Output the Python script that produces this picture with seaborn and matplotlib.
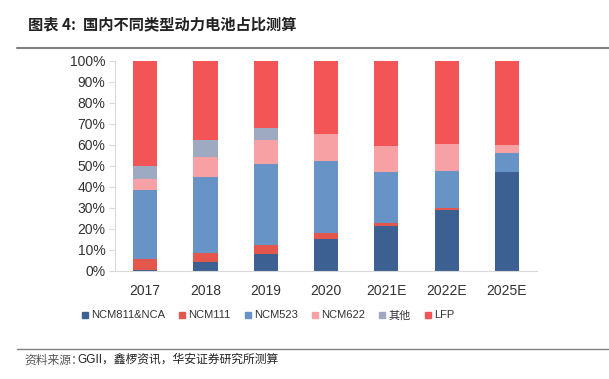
"""Stacked share chart of domestic power battery types."""
import matplotlib
matplotlib.use("Agg")
import matplotlib.pyplot as plt
from matplotlib.lines import Line2D
from matplotlib.ticker import PercentFormatter
import numpy as np
import pandas as pd
import seaborn as sns

years = ["2017", "2018", "2019", "2020", "2021E", "2022E", "2025E"]
ncm811_nca = [0.5, 4.3, 8.1, 15.1, 21.4, 28.9, 47.1]
ncm111 = [5.2, 4.3, 4.3, 2.7, 1.1, 0.9, 0.0]
ncm523 = [32.7, 35.8, 38.2, 34.4, 24.6, 17.8, 9.1]
ncm622 = [5.4, 9.7, 11.6, 12.9, 12.4, 12.7, 3.8]
others = [6.0, 8.1, 5.9, 0.0, 0.0, 0.0, 0.0]
lfp = [50.2, 37.8, 31.9, 34.9, 40.5, 39.7, 40.0]

series_names = ["NCM811&NCA", "NCM111", "NCM523", "NCM622", "其他", "LFP"]
series_values = [ncm811_nca, ncm111, ncm523, ncm622, others, lfp]
colors = ["#3B6091", "#E4574D", "#6893C6", "#F8A1A4", "#9DAAC2", "#F35557"]

sns.set_style("white")
plt.rcParams["font.family"] = ["Liberation Sans", "Noto Sans CJK SC"]

fig = plt.figure(figsize=(6.09, 3.79), dpi=100)
ax = fig.add_axes([0.189, 0.286, 0.693, 0.554])

bottom = np.zeros(len(years))
for name, vals, col in zip(series_names, series_values, colors):
    df = pd.DataFrame({"year": years, "share": vals})
    sns.barplot(data=df, x="year", y="share", color=col, bottom=bottom,
                width=0.4, ax=ax, saturation=1, linewidth=0)
    bottom += np.array(vals)

ax.set_xlim(-0.5, len(years) - 0.5)
ax.set_ylim(0, 100)
ax.set_yticks(np.arange(0, 101, 10))
ax.yaxis.set_major_formatter(PercentFormatter(decimals=0))
ax.set_xlabel("")
ax.set_ylabel("")
for s in ["top", "right"]:
    ax.spines[s].set_visible(False)
ax.spines["left"].set_color("#D9D9D9")
ax.spines["bottom"].set_color("#D9D9D9")
ax.tick_params(axis="y", left=True, length=4, color="#D9D9D9", labelsize=10,
               labelcolor="#333333", pad=3)
ax.tick_params(axis="x", bottom=False, labelsize=10, labelcolor="#333333", pad=6)

handles = [Line2D([], [], marker="s", linestyle="", markersize=4,
                  markerfacecolor=c, markeredgecolor=c) for c in colors]
fig.legend(handles, series_names, loc="center", bbox_to_anchor=(0.44, 0.168),
           ncol=6, frameon=False, fontsize=8, handlelength=0.5, handletextpad=0.3,
           columnspacing=1.3, labelcolor="#333333")

fig.text(0.046, 0.937, "图表 4:  国内不同类型动力电池占比测算", fontsize=11,
         fontweight="bold", family=["Noto Sans CJK SC"], va="center", color="#222222")
fig.add_artist(Line2D([0.028, 1.0], [0.873, 0.873], color="#808080", lw=1.5))
fig.add_artist(Line2D([0.028, 1.0], [0.08, 0.08], color="#808080", lw=1.0))
fig.text(0.04, 0.05, "资料来源：", fontsize=8.5, family=["Noto Sans CJK SC"],
         va="center", color="#555555")
fig.text(0.127, 0.05, "GGII，鑫椤资讯，华安证券研究所测算", fontsize=8.5,
         family=["Liberation Sans", "Noto Sans CJK SC"], va="center", color="#222222")

fig.savefig("out.png", dpi=100)
